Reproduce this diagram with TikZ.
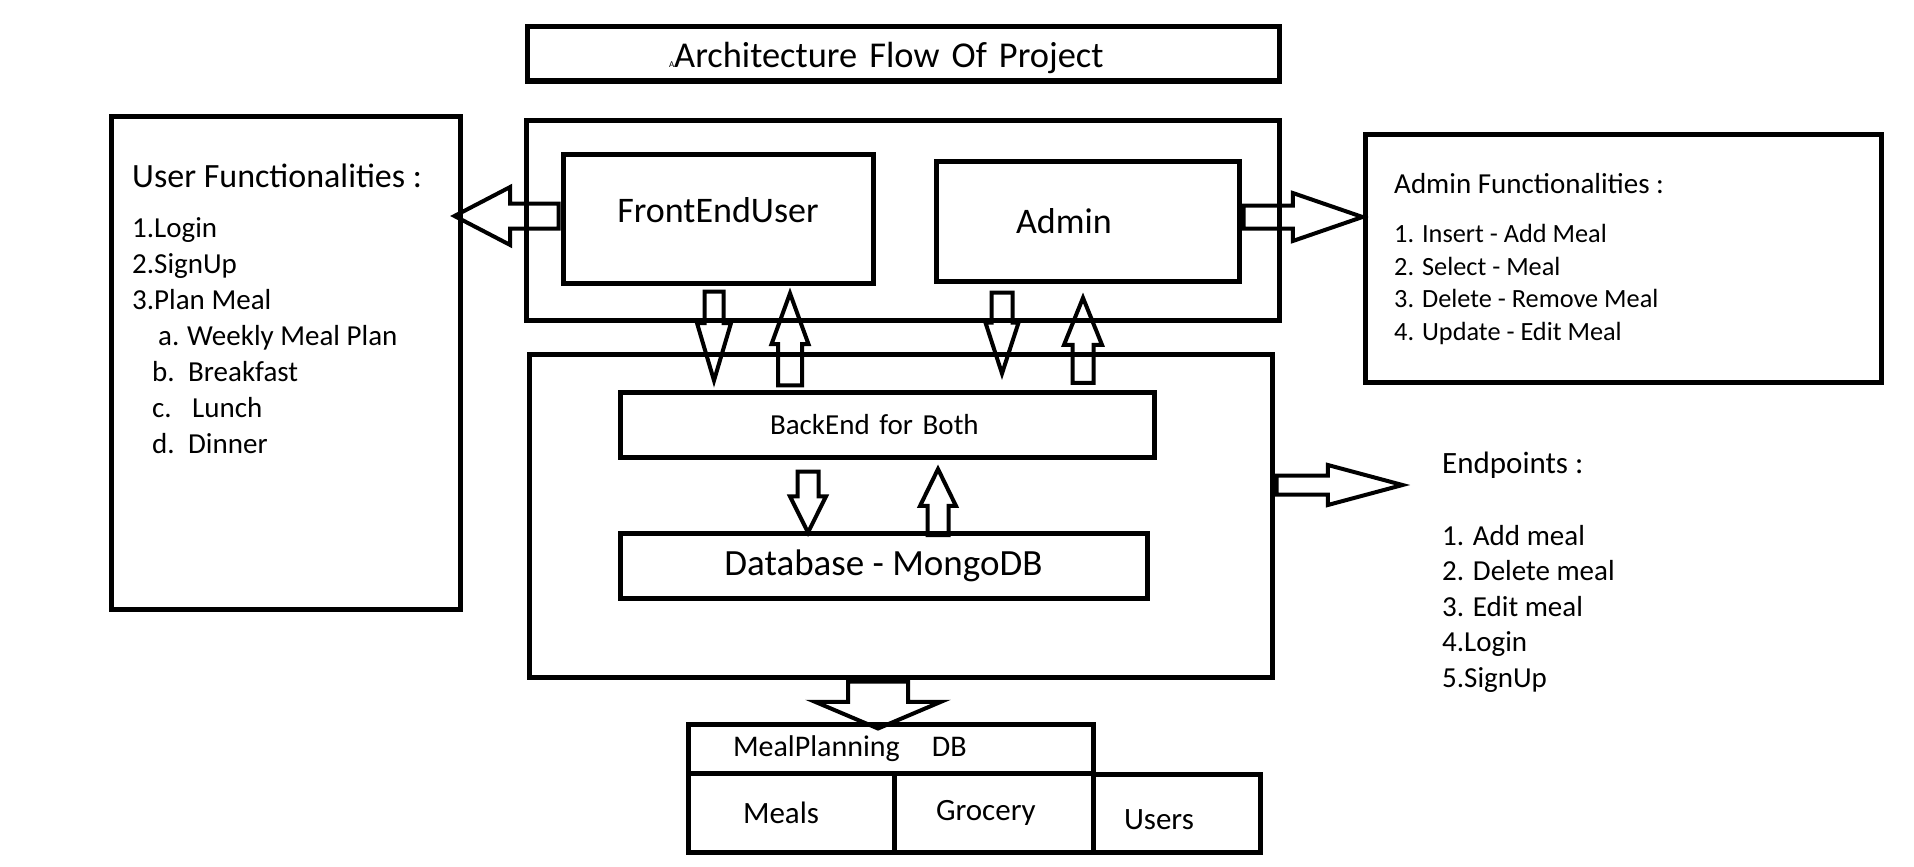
\documentclass[tikz,border=0pt]{standalone}
\usepackage{fontspec}
\setmainfont{Carlito}
\usetikzlibrary{shapes.arrows}
\tikzstyle{box} = [rectangle, draw=black, line width=5pt, inner sep=0pt]
\tikzstyle{barrow} = [single arrow, draw=black, line width=4pt, minimum width=0pt, inner sep=0pt, anchor=tail]
\tikzstyle{list} = [anchor=base west, align=left, inner sep=0pt]

\begin{document}
\begin{tikzpicture}[x=1pt, y=-1pt]
\useasboundingbox (0,0) rectangle (1914,867);

\node (title) [box, minimum height=54, text width=468, inner xsep=142, align=left, text height=27, text depth=0, font=\fontsize{36.4}{44}\selectfont] at (903,54) {{\fontsize{9}{9}\selectfont A}Architecture Flow Of Project};

\node (userf) [box, minimum width=349, minimum height=493] at (285.5,362.5) {};
\node (userhd) [list, font=\fontsize{34}{40}\selectfont] at (132,187) {User Functionalities :};
\node (userls) [list, font=\fontsize{29}{36}\selectfont] at (132,453) {1.Login\\2.SignUp\\3.Plan Meal\\\hspace*{26pt}\makebox[29pt][l]{a.}Weekly Meal Plan\\\hspace*{20pt}\makebox[36pt][l]{b.}Breakfast\\\hspace*{20pt}\makebox[40pt][l]{c.}Lunch\\\hspace*{20pt}\makebox[36pt][l]{d.}Dinner};

\node (front) [box, minimum width=753, minimum height=200] at (902.5,220) {};
\node (feu) [box, minimum width=310, minimum height=129, text height=27, text depth=20, font=\fontsize{36}{43}\selectfont] at (718,218.5) {FrontEndUser};
\node (admin) [box, minimum width=303, minimum height=120, text width=143, inner xsep=80, align=left, font=\fontsize{36}{43}\selectfont] at (1087.5,221) {Admin};

\node (adminf) [box, minimum width=516, minimum height=248] at (1623,258) {};
\node (adminhd) [list, font=\fontsize{29}{35}\selectfont] at (1394,193) {Admin Functionalities :};
\node (adminls) [list, font=\fontsize{26.3}{32.5}\selectfont] at (1394,340) {1. Insert - Add Meal\\2. Select - Meal\\3. Delete - Remove Meal\\4. Update - Edit Meal};

\node (back) [box, minimum width=743, minimum height=323] at (900.5,515.5) {};
\node (backend) [box, minimum width=534, minimum height=65, text width=234, inner xsep=150, align=left, font=\fontsize{29}{35}\selectfont] at (887,424.5) {BackEnd for Both};
\node (db) [box, minimum width=527, minimum height=65, font=\fontsize{37}{44}\selectfont] at (883.5,565.5) {Database - MongoDB};

\node (endhd) [list, font=\fontsize{31}{37}\selectfont] at (1442,473) {Endpoints :};
\node (endls) [list, font=\fontsize{29}{35.5}\selectfont] at (1442,687) {1. Add meal\\2. Delete meal\\3. Edit meal\\4.Login\\5.SignUp};

\node (mpdb) [box, minimum width=405, minimum height=49, text width=315, inner xsep=45, align=left, font=\fontsize{30}{36}\selectfont] at (890.5,748.5) {MealPlanning\hspace{32pt}DB};
\node (meals) [box, minimum width=206, minimum height=79, text width=96, inner xsep=55, align=left, font=\fontsize{31}{37}\selectfont] at (791,812.5) {Meals};
\node (grocery) [box, minimum width=199, minimum height=79, text width=115, inner xsep=42, align=left, font=\fontsize{31}{37}\selectfont] at (993.5,812.5) {Grocery};
\node (users) [box, minimum width=167, minimum height=78, text width=105, inner xsep=31, align=left, text height=32, text depth=0, font=\fontsize{31}{37}\selectfont] at (1176.5,813) {Users};

\node (userar) [barrow, inner ysep=10.5, single arrow head extend=16.5, single arrow tip angle=55, minimum height=104, shape border rotate=180] at ([yshift=2.5pt]feu.west) {};
\node (adminar) [barrow, inner ysep=9.5, single arrow head extend=12.5, single arrow tip angle=38, minimum height=119] at ([yshift=4pt]admin.east) {};
\node (endar) [barrow, inner ysep=7.5, single arrow head extend=10.5, single arrow tip angle=30, minimum height=126] at ([yshift=30.5pt]back.east) {};

\node (feudn) [barrow, inner xsep=7.5, single arrow head extend=7.5, single arrow tip angle=33, minimum height=89, shape border rotate=270] at ([xshift=-4pt,yshift=-4pt]feu.south) {};
\node (feuup) [barrow, inner xsep=10, single arrow head extend=6.5, single arrow tip angle=40, minimum height=92, shape border rotate=90, anchor=tip] at ([xshift=72pt,yshift=-2pt]feu.south) {};
\node (admindn) [barrow, inner xsep=8.5, single arrow head extend=6, single arrow tip angle=36, minimum height=81, shape border rotate=270] at ([xshift=-85.5pt,yshift=-7pt]admin.south) {};
\node (adminup) [barrow, inner xsep=8.5, single arrow head extend=8.5, single arrow tip angle=44, minimum height=85, shape border rotate=90, anchor=tip] at ([xshift=-4.5pt,yshift=-9pt]admin.south) {};

\node (backdn) [barrow, inner xsep=8.5, single arrow head extend=7.5, single arrow tip angle=53, minimum height=61, shape border rotate=270] at ([xshift=-79pt,yshift=-10pt]backend.south) {};
\node (backup) [barrow, inner xsep=8.5, single arrow head extend=7.5, single arrow tip angle=52, minimum height=66, shape border rotate=90, anchor=tip] at ([xshift=51pt,yshift=-5pt]backend.south) {};

\node (dbar) [barrow, inner xsep=28, single arrow head extend=33, single arrow tip angle=134, minimum height=47, shape border rotate=270] at ([xshift=-22.5pt]back.south) {};

\end{tikzpicture}
\end{document}
